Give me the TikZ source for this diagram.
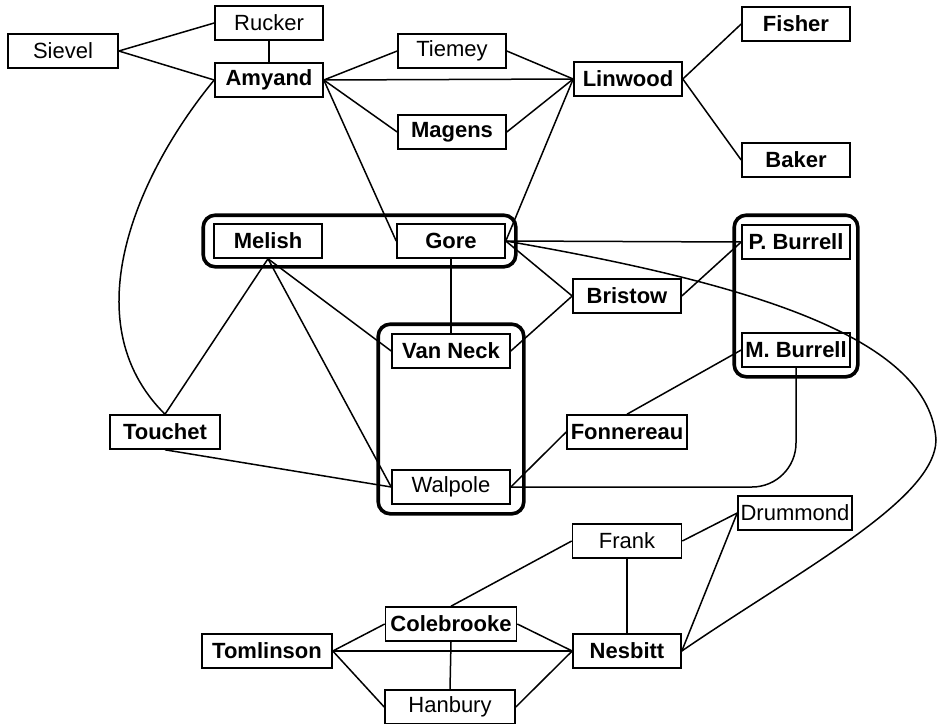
\documentclass[tikz,border=0pt]{standalone}
\usepackage{fontspec}
\setmainfont{Liberation Sans}
\usetikzlibrary{fit}

\begin{document}
\begin{tikzpicture}[x=1pt,y=-1pt,
    person/.style={draw, line width=1.6pt, minimum width=108pt, minimum height=34pt,
        inner sep=2pt, font=\fontsize{22}{26}\selectfont},
    bperson/.style={person, font=\fontsize{22}{26}\selectfont\bfseries},
    group/.style={draw, line width=3.6pt, rounded corners=12pt},
    link/.style={line width=1.5pt}]
    \useasboundingbox (0,0) rectangle (937,723);

    % top
    \node[person, minimum width=110pt] (Sievel) at (63,51) {Sievel};
    \node[person] (Rucker) at (269,23) {Rucker};
    \node[bperson] (Amyand) at (269,80) {Amyand};
    \node[person] (Tiemey) at (452,51) {Tiemey};
    \node[bperson] (Magens) at (452,132) {Magens};
    \node[bperson] (Linwood) at (628,79) {Linwood};
    \node[bperson] (Fisher) at (796,24) {Fisher};
    \node[bperson] (Baker) at (796,160) {Baker};

    % middle
    \node[bperson] (Melish) at (268,241) {Melish};
    \node[bperson] (Gore) at (451,241) {Gore};
    \node[bperson] (Bristow) at (627,296) {Bristow};
    \node[bperson] (PBurrell) at (796,242) {P. Burrell};
    \node[bperson] (MBurrell) at (796,350) {M. Burrell};
    \node[bperson, minimum width=118pt] (VanNeck) at (451,351) {Van Neck};
    \node[person, minimum width=118pt] (Walpole) at (451,487) {Walpole};
    \node[bperson, minimum width=110pt] (Touchet) at (165,432) {Touchet};
    \node[bperson, minimum width=120pt] (Fonnereau) at (627,432) {Fonnereau};

    \node[group, inner xsep=10pt, inner ysep=8pt, fit=(Melish)(Gore)] (MelishGore) {};
    \node[group, inner xsep=13pt, inner ysep=9pt, fit=(VanNeck)(Walpole)] (NeckWalpole) {};
    \node[group, inner xsep=7pt, inner ysep=9pt, fit=(PBurrell)(MBurrell)] (Burrells) {};

    % bottom
    \node[person, minimum width=109pt] (Frank) at (627,541) {Frank};
    \node[person, minimum width=114pt] (Drummond) at (795,513) {Drummond};
    \node[bperson, minimum width=131pt] (Colebrooke) at (451,624) {Colebrooke};
    \node[bperson, minimum width=130pt] (Tomlinson) at (267,651) {Tomlinson};
    \node[bperson] (Nesbitt) at (627,651) {Nesbitt};
    \node[person, minimum width=130pt] (Hanbury) at (450,707) {Hanbury};

    \foreach \a/\b in {Sievel.east/Rucker.west, Sievel.east/Amyand.west,
        Rucker.south/Amyand.north, Amyand.east/Tiemey.west,
        Amyand.east/Linwood.west, Amyand.east/Magens.west,
        Amyand.east/Gore.west, Tiemey.east/Linwood.west,
        Magens.east/Linwood.west, Gore.east/Linwood.west,
        Linwood.east/Fisher.west, Linwood.east/Baker.west,
        Gore.east/PBurrell.west, Gore.east/Bristow.west,
        Gore.south/VanNeck.north, Bristow.west/VanNeck.east,
        Bristow.east/PBurrell.west, Melish.south/Touchet.north,
        Melish.south/VanNeck.west, Melish.south/Walpole.west,
        Touchet.south/Walpole.west, Walpole.east/Fonnereau.west,
        Fonnereau.north/MBurrell.west} {
        \draw[link] (\a) -- (\b);
    }
    \foreach \a/\b in {Frank.west/Colebrooke.north, Frank.east/Drummond.west,
        Frank.south/Nesbitt.north, Drummond.west/Nesbitt.east,
        Colebrooke.east/Nesbitt.west, Colebrooke.south/Hanbury.north,
        Tomlinson.east/Colebrooke.west, Tomlinson.east/Nesbitt.west,
        Tomlinson.east/Hanbury.west, Hanbury.east/Nesbitt.west} {
        \draw[link] (\a) -- (\b);
    }

    % curved ties
    \draw[link] (Amyand.west) .. controls (140,170) and (70,320) .. (Touchet.north);
    \draw[link, rounded corners=44pt] (Walpole.east) -| (MBurrell.south);
    \draw[link] (Gore.east) .. controls (760,285) and (930,340) .. (936,440)
        .. controls (935,500) and (800,570) .. (Nesbitt.east);
\end{tikzpicture}
\end{document}
